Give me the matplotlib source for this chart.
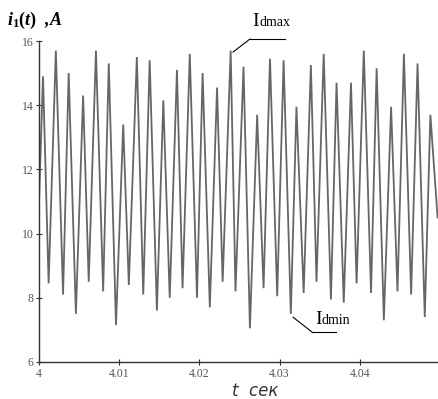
#!/usr/bin/env python3
"""
Rectifier current i1(t) ripple: peaks/valleys read off the oscillogram.
"""

import numpy as np
import matplotlib.pyplot as plt

# time of each local maximum (s) and its current (A)
peak_t = [4.0005, 4.0021, 4.0037, 4.0055, 4.0071, 4.0087, 4.0105, 4.0122,
          4.0138, 4.0155, 4.0172, 4.0188, 4.0204, 4.0222, 4.0239, 4.0255,
          4.0272, 4.0288, 4.0305, 4.0321, 4.0339, 4.0355, 4.0371, 4.0389,
          4.0405, 4.0421, 4.0439, 4.0455, 4.0472, 4.0488]
peak_i = [14.9, 15.7, 15.0, 14.3, 15.7, 15.3, 13.4, 15.5,
          15.4, 14.15, 15.1, 15.6, 15.0, 14.55, 15.7, 15.2,
          13.7, 15.45, 15.4, 13.95, 15.25, 15.6, 14.7, 14.7,
          15.7, 15.15, 13.95, 15.6, 15.3, 13.7]

# time of each local minimum (s) and its current (A)
valley_t = [4.0012, 4.0030, 4.0046, 4.0062, 4.0080, 4.0096, 4.0112, 4.0130,
            4.0147, 4.0163, 4.0179, 4.0197, 4.0213, 4.0229, 4.0245, 4.0263,
            4.0280, 4.0297, 4.0314, 4.0330, 4.0346, 4.0364, 4.0380, 4.0396,
            4.0414, 4.0430, 4.0447, 4.0464, 4.0481]
valley_i = [8.45, 8.1, 7.5, 8.5, 8.2, 7.15, 8.4, 8.1,
            7.6, 8.0, 8.3, 8.0, 7.7, 8.5, 8.2, 7.05,
            8.3, 8.05, 7.5, 8.15, 8.5, 7.95, 7.85, 8.45,
            8.15, 7.3, 8.2, 8.1, 7.4]

# start / end samples of the trace
edge_t = [4.0, 4.0497]
edge_i = [11.0, 10.5]

x_ticks = [4.0, 4.01, 4.02, 4.03, 4.04]
x_ticklabels = ["4", "4.01", "4.02", "4.03", "4.04"]
y_ticks = [6, 8, 10, 12, 14, 16]


def build_trace():
    t = np.array(peak_t + valley_t + edge_t)
    i = np.array(peak_i + valley_i + edge_i)
    order = np.argsort(t)
    return t[order], i[order]


def main():
    plt.rcParams['mathtext.fontset'] = 'custom'
    plt.rcParams['mathtext.it'] = 'Liberation Serif:italic:bold'
    plt.rcParams['mathtext.rm'] = 'Liberation Serif:bold'

    fig = plt.figure(figsize=(4.38, 3.99), dpi=100)
    ax = fig.add_axes([39 / 438, 37 / 399, 401 / 438, 321 / 399])

    t, i = build_trace()
    ax.plot(t, i, color='#666666', lw=1.3, solid_joinstyle='miter')

    ax.set_xlim(4.0, 4.05)
    ax.set_ylim(6, 16)
    ax.set_xticks(x_ticks)
    ax.set_xticklabels(x_ticklabels)
    ax.set_yticks(y_ticks)

    for s in ['top', 'right']:
        ax.spines[s].set_visible(False)
    for s in ['left', 'bottom']:
        ax.spines[s].set_color('#333333')
        ax.spines[s].set_linewidth(1.0)

    ax.tick_params(direction='inout', length=4, width=0.8, colors='#333333',
                   labelsize=8.5, pad=2)
    for lab in ax.get_xticklabels() + ax.get_yticklabels():
        lab.set_fontfamily('Liberation Serif')
        lab.set_color('#555555')

    # axis titles
    fig.text(7 / 438, 1 - 20 / 399, r"$i_1(t)$  ,A", fontsize=13,
             family='Liberation Serif', style='italic', weight='bold',
             ha='left', va='center')
    fig.text(232 / 438, 1 - 391 / 399, "t  сек", fontsize=12,
             family='DejaVu Sans', style='italic', color='#333333',
             ha='left', va='center')

    # I_dmax callout
    ax.annotate("", xy=(peak_t[14], peak_i[14] - 0.1), xycoords='data',
                xytext=(250 / 438, 1 - 39 / 399), textcoords='figure fraction',
                arrowprops=dict(arrowstyle='-', color='black', lw=0.8,
                                shrinkA=0, shrinkB=2))
    fig.lines.append(plt.Line2D([250 / 438, 285 / 438], [1 - 39 / 399, 1 - 39 / 399],
                                transform=fig.transFigure, color='black', lw=0.8))
    fig.text(252 / 438, 1 - 21 / 399, "I", fontsize=14, family='Liberation Serif',
             ha='left', va='center')
    fig.text(259 / 438, 1 - 23 / 399, "dmax", fontsize=10, family='Liberation Serif',
             ha='left', va='center')

    # I_dmin callout
    ax.annotate("", xy=(valley_t[18], valley_i[18] - 0.05), xycoords='data',
                xytext=(312 / 438, 1 - 332 / 399), textcoords='figure fraction',
                arrowprops=dict(arrowstyle='-', color='black', lw=0.8,
                                shrinkA=0, shrinkB=2))
    fig.lines.append(plt.Line2D([312 / 438, 336 / 438], [1 - 332 / 399, 1 - 332 / 399],
                                transform=fig.transFigure, color='black', lw=0.8))
    fig.text(315 / 438, 1 - 319 / 399, "I", fontsize=14, family='Liberation Serif',
             ha='left', va='center')
    fig.text(322 / 438, 1 - 321 / 399, "dmin", fontsize=10, family='Liberation Serif',
             ha='left', va='center')

    fig.savefig("out.png", dpi=100)
    plt.close(fig)


if __name__ == "__main__":
    main()
